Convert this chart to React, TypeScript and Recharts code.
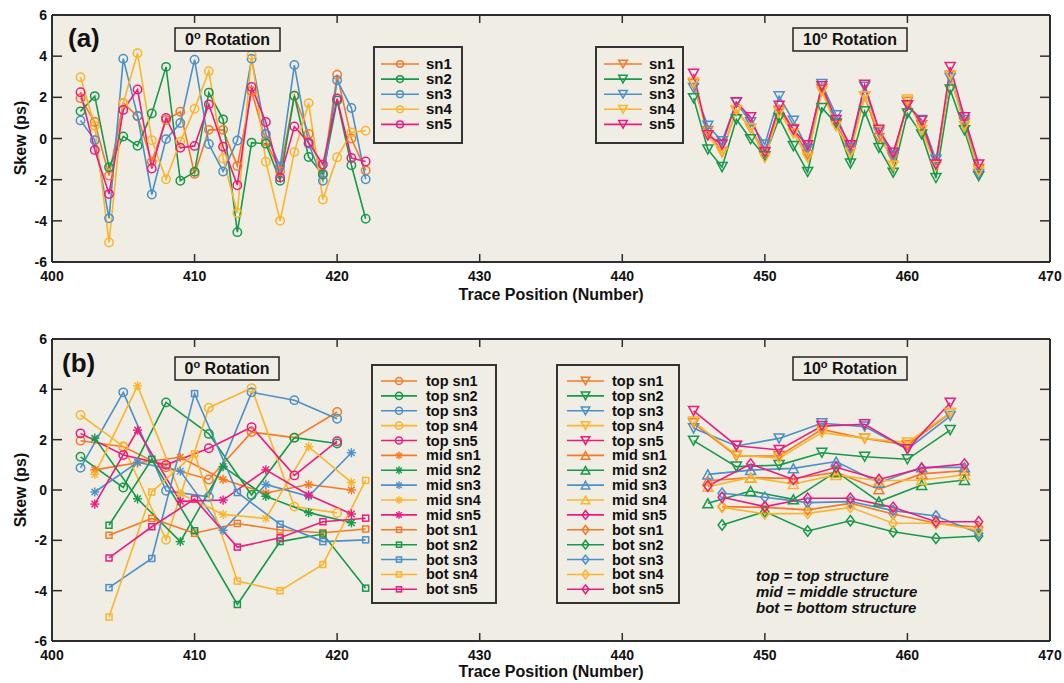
import { CartesianGrid, Line, LineChart, XAxis, YAxis } from 'recharts';

// Skew per trace position
const FONT = "'Liberation Sans', Arial, Helvetica, sans-serif";
const BG = '#f0ede5';
const AXIS = '#2e2e2e';

const sensors = ['sn1', 'sn2', 'sn3', 'sn4', 'sn5'];
const levels = ['top', 'mid', 'bot'];
const colors = ['#f47a25', '#17994a', '#4b90c8', '#fbb52b', '#ec1c7f'];

const xTicks = [400, 410, 420, 430, 440, 450, 460, 470];
const yTicks = [-6, -4, -2, 0, 2, 4, 6];

// trace positions (top, mid, bot repeat along the trace)
const traceRot0 = [402, 403, 404, 405, 406, 407, 408, 409, 410, 411, 412, 413, 414, 415, 416, 417, 418, 419, 420, 421, 422];
const traceRot10 = [445, 446, 447, 448, 449, 450, 451, 452, 453, 454, 455, 456, 457, 458, 459, 460, 461, 462, 463, 464, 465];

// 0 degree rotation
const sn1Rot0 = [1.96, 0.8, -1.8, 1.72, 1.08, -1.13, 0.9, 1.3, -1.72, 0.42, 0.42, -1.33, 2.3, -0.12, -1.59, 2.08, 0.22, -1.7, 3.1, 0.0, -1.55];
const sn2Rot0 = [1.32, 2.06, -1.4, 0.1, -0.35, 1.22, 3.48, -2.05, -1.62, 2.23, 0.93, -4.55, -0.2, -0.25, -2.05, 2.08, -0.9, -1.75, 1.85, -1.3, -3.9];
const sn3Rot0 = [0.88, -0.08, -3.88, 3.88, 1.1, -2.72, -0.03, 0.75, 3.83, -0.27, -1.6, -0.1, 3.88, 0.22, -1.36, 3.57, -0.25, -2.05, 2.83, 1.48, -1.98];
const sn4Rot0 = [2.98, 0.62, -5.05, 1.73, 4.14, -0.08, -1.98, -0.15, 1.44, 3.27, -0.97, -3.62, 4.05, -1.13, -4.0, -0.66, 1.72, -2.96, -0.91, 0.3, 0.38];
const sn5Rot0 = [2.25, -0.56, -2.7, 1.39, 2.38, -1.46, 1.0, -0.45, -0.36, 1.66, -0.4, -2.27, 2.5, 0.8, -1.9, 0.58, -0.2, -1.26, 1.94, -0.95, -1.12];

// 10 degree rotation
const sn1Rot10 = [2.65, 0.37, -0.66, 1.35, 0.49, -0.69, 1.35, 0.46, -0.79, 2.41, 0.7, -0.53, 2.05, 0.03, -0.95, 1.79, 0.64, -1.32, 3.05, 0.77, -1.48];
const sn2Rot10 = [1.96, -0.53, -1.39, 0.93, -0.04, -0.86, 0.99, -0.37, -1.63, 1.48, 0.73, -1.22, 1.32, -0.46, -1.66, 1.22, 0.2, -1.92, 2.38, 0.4, -1.83];
const sn3Rot10 = [2.45, 0.62, -0.13, 1.75, 0.79, -0.29, 2.05, 0.86, -0.5, 2.65, 1.13, -0.46, 2.52, 0.29, -0.82, 1.62, 0.9, -1.03, 2.94, 0.9, -1.72];
const sn4Rot10 = [2.72, 0.13, -0.69, 1.39, 0.5, -0.95, 1.26, 0.24, -0.93, 2.28, 0.6, -0.69, 2.05, 0.37, -1.32, 1.89, 0.4, -1.32, 3.07, 0.6, -1.59];
const sn5Rot10 = [3.14, 0.16, -0.29, 1.76, 1.03, -0.66, 1.59, 0.42, -0.33, 2.54, 0.9, -0.33, 2.61, 0.42, -0.69, 1.62, 0.86, -1.26, 3.47, 1.03, -1.26];

const rot0 = [sn1Rot0, sn2Rot0, sn3Rot0, sn4Rot0, sn5Rot0];
const rot10 = [sn1Rot10, sn2Rot10, sn3Rot10, sn4Rot10, sn5Rot10];

// marker per level; the 10 degree "mid sn5" uses a diamond in the original
const shapesRot0 = [
  ['circle', 'circle', 'circle', 'circle', 'circle'],
  ['star', 'star', 'star', 'star', 'star'],
  ['square', 'square', 'square', 'square', 'square'],
];
const shapesRot10 = [
  ['down', 'down', 'down', 'down', 'down'],
  ['up', 'up', 'up', 'up', 'diamond'],
  ['diamond', 'diamond', 'diamond', 'diamond', 'diamond'],
];

type Pt = { x: number; y: number };
type Series = { name: string; color: string; shape: string; data: Pt[] };

function Marker({ shape, cx, cy, color, k = 1 }: any) {
  const p = { fill: 'none', stroke: color, strokeWidth: 1.5 };
  if (shape === 'circle') return <circle cx={cx} cy={cy} r={4.2 * k} {...p} />;
  if (shape === 'square') {
    const h = 3 * k;
    return <rect x={cx - h} y={cy - h} width={2 * h} height={2 * h} {...p} />;
  }
  if (shape === 'down') {
    const w = 5 * k;
    const h = 4.5 * k;
    return <polygon points={`${cx - w},${cy - h} ${cx + w},${cy - h} ${cx},${cy + h}`} {...p} />;
  }
  if (shape === 'up') {
    const w = 5 * k;
    const h = 4.5 * k;
    return <polygon points={`${cx - w},${cy + h} ${cx + w},${cy + h} ${cx},${cy - h}`} {...p} />;
  }
  if (shape === 'diamond') {
    const w = 4 * k;
    const h = 5.2 * k;
    return <polygon points={`${cx},${cy - h} ${cx + w},${cy} ${cx},${cy + h} ${cx - w},${cy}`} {...p} />;
  }
  // asterisk
  const r = 4.6 * k;
  const d = r * 0.707;
  return (
    <g stroke={color} strokeWidth={1.4}>
      <line x1={cx - r} y1={cy} x2={cx + r} y2={cy} />
      <line x1={cx} y1={cy - r} x2={cx} y2={cy + r} />
      <line x1={cx - d} y1={cy - d} x2={cx + d} y2={cy + d} />
      <line x1={cx - d} y1={cy + d} x2={cx + d} y2={cy - d} />
    </g>
  );
}

const tickText = { fontFamily: FONT, fontSize: 14, fontWeight: 700, fill: '#111' };

const xTick = (side: string) => (props: any) => {
  const { x, y, payload } = props;
  const len = 8;
  if (side === 'top') {
    return <line x1={x} x2={x} y1={y} y2={y + len} stroke={AXIS} strokeWidth={1.5} />;
  }
  return (
    <g>
      <line x1={x} x2={x} y1={y} y2={y - len} stroke={AXIS} strokeWidth={1.5} />
      <text x={x} y={y + 19} textAnchor="middle" {...tickText}>
        {payload.value}
      </text>
    </g>
  );
};

const yTick = (side: string) => (props: any) => {
  const { x, y, payload } = props;
  const len = 10;
  if (side === 'right') {
    return <line x1={x} x2={x - len} y1={y} y2={y} stroke={AXIS} strokeWidth={1.5} />;
  }
  return (
    <g>
      <line x1={x} x2={x + len} y1={y} y2={y} stroke={AXIS} strokeWidth={1.5} />
      <text x={x - 5} y={y} dy="0.36em" textAnchor="end" {...tickText}>
        {payload.value}
      </text>
    </g>
  );
};

function buildPanelA(): Series[] {
  const out: Series[] = [];
  sensors.forEach((sn, k) => {
    out.push({ name: sn, color: colors[k], shape: 'circle', data: traceRot0.map((x, i) => ({ x, y: rot0[k][i] })) });
  });
  sensors.forEach((sn, k) => {
    out.push({ name: sn, color: colors[k], shape: 'down', data: traceRot10.map((x, i) => ({ x, y: rot10[k][i] })) });
  });
  return out;
}

function buildPanelB(): Series[] {
  const out: Series[] = [];
  levels.forEach((lv, g) => {
    sensors.forEach((sn, k) => {
      out.push({
        name: `${lv} ${sn}`,
        color: colors[k],
        shape: shapesRot0[g][k],
        data: traceRot0.map((x, i) => ({ x, y: rot0[k][i] })).filter((_, i) => i % 3 === g),
      });
    });
  });
  levels.forEach((lv, g) => {
    sensors.forEach((sn, k) => {
      out.push({
        name: `${lv} ${sn}`,
        color: colors[k],
        shape: shapesRot10[g][k],
        data: traceRot10.map((x, i) => ({ x, y: rot10[k][i] })).filter((_, i) => i % 3 === g),
      });
    });
  });
  return out;
}

// axes are 1px thick so recharts still draws them; margins put the plot box in place
function Panel({ top, height, margin, series }: { top: number; height: number; margin: any; series: Series[] }) {
  const axisLine = { stroke: AXIS, strokeWidth: 2 };
  return (
    <div style={{ position: 'absolute', left: 0, top }}>
      <LineChart width={1064} height={height} margin={margin}>
        <CartesianGrid fill={BG} stroke="none" horizontal={false} vertical={false} />
        <XAxis xAxisId="b" type="number" dataKey="x" domain={[400, 470]} ticks={xTicks} interval={0}
          orientation="bottom" height={1} tickSize={0} tickMargin={0} tickLine={false} axisLine={axisLine}
          tick={xTick('bottom')} allowDataOverflow />
        <XAxis xAxisId="t" type="number" dataKey="x" domain={[400, 470]} ticks={xTicks} interval={0}
          orientation="top" height={1} tickSize={0} tickMargin={0} tickLine={false} axisLine={axisLine}
          tick={xTick('top')} allowDataOverflow />
        <YAxis yAxisId="l" type="number" domain={[-6, 6]} ticks={yTicks} interval={0}
          orientation="left" width={1} tickSize={0} tickMargin={0} tickLine={false} axisLine={axisLine}
          tick={yTick('left')} allowDataOverflow />
        <YAxis yAxisId="r" type="number" domain={[-6, 6]} ticks={yTicks} interval={0}
          orientation="right" width={1} tickSize={0} tickMargin={0} tickLine={false} axisLine={axisLine}
          tick={yTick('right')} allowDataOverflow />
        {series.map((s, idx) => (
          <Line
            key={`${s.name}-${idx}`}
            xAxisId="b"
            yAxisId="l"
            data={s.data}
            dataKey="y"
            stroke={s.color}
            strokeWidth={1.6}
            isAnimationActive={false}
            activeDot={false}
            dot={(p: any) => <Marker key={`d${idx}-${p.index}`} shape={s.shape} cx={p.cx} cy={p.cy} color={s.color} />}
          />
        ))}
      </LineChart>
    </div>
  );
}

function RotationBox({ x, y, w, label }: { x: number; y: number; w: number; label: string }) {
  return (
    <g>
      <rect x={x} y={y} width={w} height={23} fill={BG} stroke="#222" strokeWidth={1.5} />
      <text x={x + w / 2} y={y + 17} textAnchor="middle" fontFamily={FONT} fontWeight={700} fontSize={16} fill="#111">
        {label}
        <tspan dy={-6} fontSize={11}>o</tspan>
        <tspan dy={6}> Rotation</tspan>
      </text>
    </g>
  );
}

type Entry = { label: string; color: string; shape: string };

function LegendBox({ x, y, w, h, first, gap, l1, l2, tx, entries, mk, fs }: any) {
  return (
    <g>
      <rect x={x} y={y} width={w} height={h} fill={BG} stroke="#333" strokeWidth={2} />
      {entries.map((e: Entry, i: number) => {
        const cy = y + first + gap * i;
        return (
          <g key={e.label + i}>
            <line x1={x + l1} x2={x + l2} y1={cy} y2={cy} stroke={e.color} strokeWidth={1.6} />
            <Marker shape={e.shape} cx={x + (l1 + l2) / 2} cy={cy} color={e.color} k={mk} />
            <text x={x + tx} y={cy + 5} fontFamily={FONT} fontWeight={700} fontSize={fs} fill="#111">
              {e.label}
            </text>
          </g>
        );
      })}
    </g>
  );
}

export default function App() {
  const seriesA = buildPanelA();
  const seriesB = buildPanelB();
  const legA0 = seriesA.slice(0, 5).map((s) => ({ label: s.name, color: s.color, shape: s.shape }));
  const legA10 = seriesA.slice(5, 10).map((s) => ({ label: s.name, color: s.color, shape: s.shape }));
  const legB0 = seriesB.slice(0, 15).map((s) => ({ label: s.name, color: s.color, shape: s.shape }));
  const legB10 = seriesB.slice(15, 30).map((s) => ({ label: s.name, color: s.color, shape: s.shape }));

  const title = { fontFamily: FONT, fontWeight: 700, fontSize: 16, fill: '#111' };
  const note = { fontFamily: FONT, fontWeight: 700, fontStyle: 'italic', fontSize: 15, fill: '#111' };

  return (
    <div style={{ position: 'absolute', left: 0, top: 0, width: 1064, height: 683, background: '#fff', overflow: 'hidden' }}>
      <Panel top={0} height={300} margin={{ top: 14, right: 13, bottom: 37, left: 51 }} series={seriesA} />
      <Panel top={300} height={383} margin={{ top: 38, right: 13, bottom: 41, left: 51 }} series={seriesB} />
      <svg width={1064} height={683} style={{ position: 'absolute', left: 0, top: 0, pointerEvents: 'none' }}>
        <text x={68} y={47} fontFamily={FONT} fontWeight={700} fontSize={26} fill="#111">(a)</text>
        <text x={62} y={372} fontFamily={FONT} fontWeight={700} fontSize={26} fill="#111">(b)</text>

        <text transform="translate(26,138) rotate(-90)" textAnchor="middle" {...title}>Skew (ps)</text>
        <text transform="translate(26,490) rotate(-90)" textAnchor="middle" {...title}>Skew (ps)</text>
        <text x={551} y={300} textAnchor="middle" {...title}>Trace Position (Number)</text>
        <text x={551} y={677} textAnchor="middle" {...title}>Trace Position (Number)</text>

        <RotationBox x={175} y={28} w={105} label="0" />
        <RotationBox x={793} y={28} w={114} label="10" />
        <RotationBox x={175} y={357} w={104} label="0" />
        <RotationBox x={793} y={357} w={114} label="10" />

        <LegendBox x={374} y={47} w={88} h={96} first={17} gap={15.1} l1={7} l2={45} tx={52} entries={legA0} mk={0.8} fs={15} />
        <LegendBox x={596} y={47} w={87} h={96} first={17} gap={15.1} l1={8} l2={46} tx={53} entries={legA10} mk={0.85} fs={15} />
        <LegendBox x={372} y={365} w={124} h={238} first={16} gap={14.88} l1={9} l2={45} tx={54} entries={legB0} mk={0.85} fs={14.5} />
        <LegendBox x={557} y={365} w={122} h={238} first={16} gap={14.88} l1={10} l2={47} tx={55} entries={legB10} mk={0.85} fs={14.5} />

        <text x={756} y={581} {...note}>top = top structure</text>
        <text x={756} y={597} {...note}>mid = middle structure</text>
        <text x={756} y={613} {...note}>bot = bottom structure</text>
      </svg>
    </div>
  );
}
